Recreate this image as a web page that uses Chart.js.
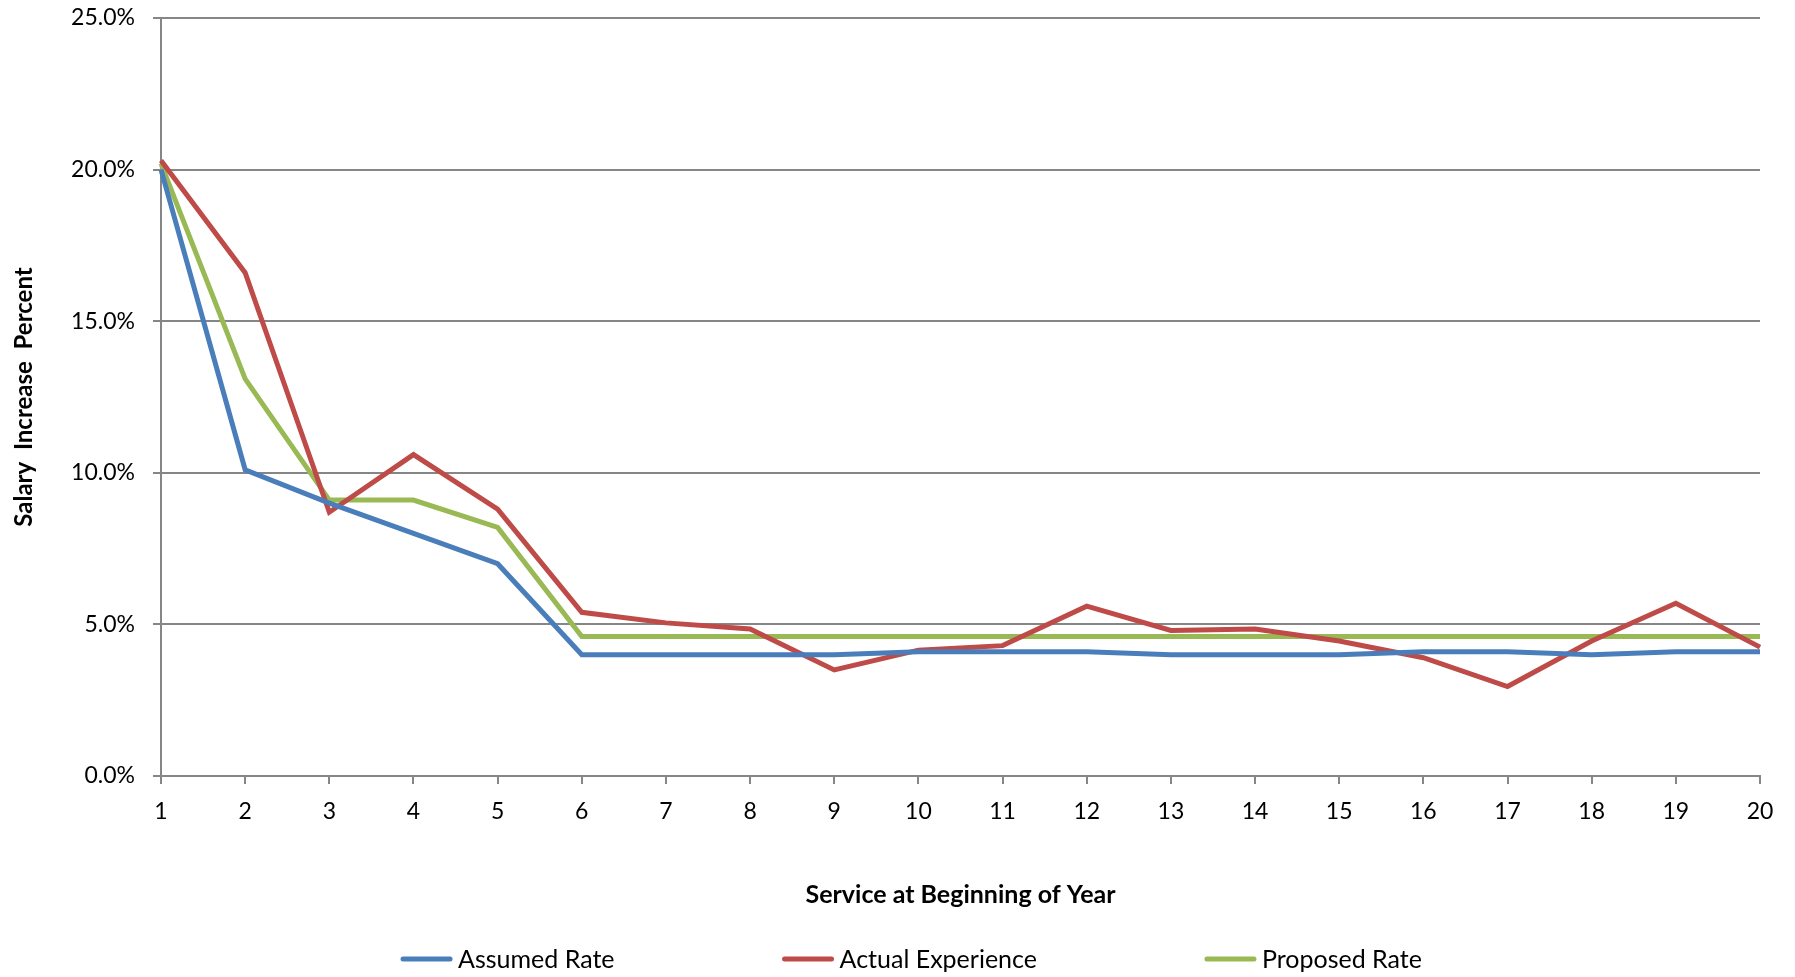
<!DOCTYPE html>
<html>
<head>
<meta charset="utf-8">
<script src="https://cdn.jsdelivr.net/npm/chart.js@4.4.1/dist/chart.umd.min.js"></script>
<style>
  html, body { margin: 0; padding: 0; background: #fff; }
  #wrap { width: 1795px; height: 977px; }
</style>
</head>
<body>
<div id="wrap"><canvas id="chart" width="1795" height="977"></canvas></div>
<script>
// service years on the x axis
const years = ['1','2','3','4','5','6','7','8','9','10','11','12','13','14','15','16','17','18','19','20']

// salary increase, percent
const assumedRate      = [20.0, 10.1, 9.0, 8.0, 7.0, 4.0, 4.0, 4.0, 4.0, 4.1, 4.1, 4.1, 4.0, 4.0, 4.0, 4.1, 4.1, 4.0, 4.1, 4.1]
const actualExperience = [20.3, 16.6, 8.7, 10.6, 8.8, 5.4, 5.05, 4.85, 3.5, 4.15, 4.3, 5.6, 4.8, 4.85, 4.45, 3.9, 2.95, 4.45, 5.7, 4.25]
const proposedRate     = [20.2, 13.1, 9.1, 9.1, 8.2, 4.6, 4.6, 4.6, 4.6, 4.6, 4.6, 4.6, 4.6, 4.6, 4.6, 4.6, 4.6, 4.6, 4.6, 4.6]

const yTicks = [0, 5, 10, 15, 20, 25]

const FONT = 'Lato'
const GRID = '#868686'

// legend drawn under the x title, excel style (short line + label, wide gaps)
const bottomLegend = {
  id: 'bottomLegend',
  afterDraw(chart) {
    const ctx = chart.ctx
    const sets = chart.data.datasets
    const lineW = 53, textGap = 5, itemGap = 167
    ctx.save()
    ctx.font = `25px ${FONT}`
    const widths = sets.map(d => lineW + textGap + ctx.measureText(d.label).width)
    const total = widths.reduce((a, b) => a + b, 0) + itemGap * (sets.length - 1)
    let x = 911 - total / 2
    const y = 959
    sets.forEach((d, i) => {
      ctx.strokeStyle = d.borderColor
      ctx.lineWidth = 5
      ctx.lineCap = 'round'
      ctx.beginPath()
      ctx.moveTo(x + 3, y)
      ctx.lineTo(x + lineW - 3, y)
      ctx.stroke()
      ctx.fillStyle = '#000'
      ctx.textBaseline = 'middle'
      ctx.fillText(d.label, x + lineW + textGap, y + 1)
      x += widths[i] + itemGap
    })
    ctx.restore()
  }
}

const line = (label, data, color) => ({
  label, data,
  borderColor: color, backgroundColor: color,
  borderWidth: 5, pointRadius: 0, tension: 0,
  borderJoinStyle: 'miter', fill: false
})

new Chart(document.getElementById('chart'), {
  type: 'line',
  data: {
    labels: years,
    datasets: [
      line('Assumed Rate', assumedRate, '#4A7EBB'),
      line('Actual Experience', actualExperience, '#BE4B48'),
      line('Proposed Rate', proposedRate, '#98B954')
    ]
  },
  options: {
    responsive: false,
    devicePixelRatio: 1,
    animation: false,
    layout: { padding: { top: 18, right: 35, bottom: 60, left: 0 } },
    plugins: { legend: { display: false }, tooltip: { enabled: false } },
    scales: {
      x: {
        offset: false,
        grid: { drawOnChartArea: false, drawTicks: true, tickLength: 8, color: GRID, lineWidth: 2 },
        border: { color: GRID, width: 2 },
        ticks: { color: '#000', font: { family: FONT, size: 23 }, padding: 14, maxRotation: 0, autoSkip: false },
        title: {
          display: true, text: 'Service at Beginning of Year', color: '#000',
          font: { family: FONT, size: 25, weight: 'bold' }, padding: { top: 0, bottom: 7 }
        },
        afterFit(s) { s.height = 141 }
      },
      y: {
        min: yTicks[0], max: yTicks[yTicks.length - 1],
        afterBuildTicks(s) { s.ticks = yTicks.map(v => ({ value: v })) },
        grid: { color: GRID, lineWidth: 2, tickLength: 8 },
        border: { color: GRID, width: 2 },
        ticks: { color: '#000', font: { family: FONT, size: 23 }, padding: 18, callback: v => v.toFixed(1) + '%' },
        title: {
          display: true, text: 'Salary  Increase  Percent', color: '#000',
          font: { family: FONT, size: 24, weight: 'bold' }, padding: { top: 10, bottom: 0 }
        },
        afterFit(s) {
          s.width = 161
          // tick padding would otherwise push the plot top down
          s.paddingTop = 0
          s.paddingBottom = 0
        }
      }
    }
  },
  plugins: [bottomLegend]
})
</script>
</body>
</html>
